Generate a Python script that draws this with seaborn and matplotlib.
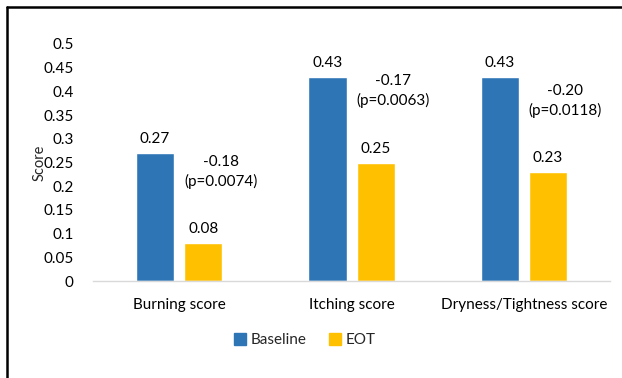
import matplotlib
matplotlib.use("Agg")
import matplotlib.pyplot as plt
import pandas as pd
import seaborn as sns
from matplotlib.lines import Line2D
from matplotlib.patches import Patch

categories = ["Burning score", "Itching score", "Dryness/Tightness score"]
baseline = [0.27, 0.43, 0.43]
eot = [0.08, 0.25, 0.23]
changes = ["-0.18", "-0.17", "-0.20"]
pvalues = ["(p=0.0074)", "(p=0.0063)", "(p=0.0118)"]
yticks = [0, 0.05, 0.1, 0.15, 0.2, 0.25, 0.3, 0.35, 0.4, 0.45, 0.5]
ytick_labels = ["0", "0.05", "0.1", "0.15", "0.2", "0.25", "0.3", "0.35", "0.4", "0.45", "0.5"]

blue = "#2E75B6"
gold = "#FFC000"

df = pd.DataFrame({
    "category": categories * 2,
    "score": baseline + eot,
    "group": ["Baseline"] * 3 + ["EOT"] * 3,
})

sns.set_theme(style="white")
plt.rcParams["font.family"] = ["Lato", "DejaVu Sans"]
plt.rcParams["font.size"] = 10.5

fig = plt.figure(figsize=(6.22, 3.78), dpi=100)
ax = fig.add_axes([0.1495, 0.2566, 0.8315, 0.627])

sns.barplot(
    data=df, x="category", y="score", hue="group",
    palette=[blue, gold], width=0.56, gap=0.21,
    saturation=1, legend=False, ax=ax,
)

# value labels
for cont in ax.containers:
    ax.bar_label(cont, fmt="%.2f", padding=5, fontsize=11, color="black")

# change annotations
for i, (c, p, e) in enumerate(zip(changes, pvalues, eot)):
    ax.text(i + 0.24, e + 0.15, c + "\n" + p, ha="center", va="center",
            fontsize=11, color="black", linespacing=1.4)

ax.set_xlim(-0.5, 2.5)
ax.set_ylim(0, 0.5)
ax.set_yticks(yticks)
ax.set_yticklabels(ytick_labels)
ax.set_xlabel("")
ax.set_ylabel("Score", fontsize=10.5, labelpad=-2)
ax.tick_params(axis="both", length=0, labelsize=11, colors="black")
ax.tick_params(axis="x", pad=12)
ax.tick_params(axis="y", pad=14)
for s in ["top", "right", "left"]:
    ax.spines[s].set_visible(False)
ax.spines["bottom"].set_color("#D9D9D9")
ax.spines["bottom"].set_linewidth(1)

handles = [Patch(color=blue, label="Baseline"), Patch(color=gold, label="EOT")]
fig.legend(handles=handles, loc="center", bbox_to_anchor=(0.49, 0.1), ncol=2,
           frameon=False, fontsize=11, handlelength=0.8, handleheight=0.8,
           handletextpad=0.3, columnspacing=1.5)

# outer frame (left and top edges)
fig.add_artist(Line2D([0.0105, 0.0105], [0, 0.982], color="black", lw=1.8,
                      transform=fig.transFigure))
fig.add_artist(Line2D([0.0105, 1.0], [0.982, 0.982], color="black", lw=1.8,
                      transform=fig.transFigure))

fig.savefig("out.png", dpi=100)
